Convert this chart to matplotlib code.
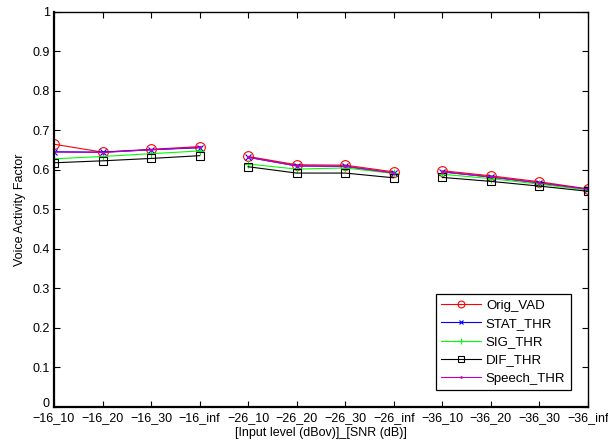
import numpy as np
import matplotlib.pyplot as plt
from matplotlib.transforms import ScaledTranslation

plt.rcParams['font.family'] = ['Liberation Sans', 'DejaVu Sans']

labels = ['\u221216_10', '\u221216_20', '\u221216_30', '\u221216_inf',
          '\u221226_10', '\u221226_20', '\u221226_30', '\u221226_inf',
          '\u221236_10', '\u221236_20', '\u221236_30', '\u221236_inf']

orig_vad = [0.665, 0.645, 0.652, 0.659, 0.634, 0.613, 0.612, 0.595, 0.598, 0.585, 0.570, 0.552]
stat_thr = [0.646, 0.645, 0.651, 0.656, 0.632, 0.610, 0.609, 0.592, 0.595, 0.582, 0.567, 0.551]
sig_thr = [0.628, 0.634, 0.641, 0.648, 0.615, 0.602, 0.605, 0.591, 0.589, 0.578, 0.564, 0.549]
dif_thr = [0.618, 0.623, 0.629, 0.636, 0.608, 0.592, 0.592, 0.580, 0.581, 0.571, 0.559, 0.546]
speech_thr = [0.645, 0.644, 0.651, 0.657, 0.632, 0.610, 0.609, 0.592, 0.595, 0.582, 0.567, 0.551]

series = [
    ('Orig_VAD', orig_vad, 'r', 'o', 7),
    ('STAT_THR', stat_thr, 'b', 'x', 5),
    ('SIG_THR', sig_thr, '#00ff00', '+', 6),
    ('DIF_THR', dif_thr, 'k', 's', 5.5),
    ('Speech_THR', speech_thr, 'm', '.', 3),
]

fig = plt.figure(figsize=(6.08, 4.47), dpi=100)
ax = fig.add_axes([0.0888, 0.0895, 0.878, 0.884])

x = np.arange(len(labels))
for name, vals, col, mk, ms in series:
    v = np.array(vals, dtype=float)
    # draw each input level as its own segment
    for g in range(3):
        sl = slice(4 * g, 4 * g + 4)
        ax.plot(x[sl], v[sl], color=col, marker=mk, markersize=ms,
                markerfacecolor='none' if mk in 'os' else col,
                lw=0.8, mew=0.8, label=name if g == 0 else None)

ax.set_xlim(0, len(labels) - 1)
ax.set_ylim(0, 1)
ax.set_xticks(x)
ax.set_xticklabels(labels)
ax.set_yticks(np.arange(0, 1.01, 0.1))
ax.set_yticklabels(['0', '0.1', '0.2', '0.3', '0.4', '0.5', '0.6', '0.7', '0.8', '0.9', '1'])
ax.tick_params(direction='in', top=True, right=True, labelsize=9, length=4, pad=3)
ax.tick_params(axis='x', pad=4)
# nudge the "0" label up a bit so it clears the first x label
zero = ax.get_yticklabels()[0]
zero.set_transform(zero.get_transform() + ScaledTranslation(0, 3 / 72, fig.dpi_scale_trans))
for s in ax.spines.values():
    s.set_linewidth(1.0)
ax.spines['left'].set_linewidth(1.6)
ax.spines['bottom'].set_linewidth(1.6)
ax.set_xlabel('[Input level (dBov)]_[SNR (dB)]', fontsize=9, labelpad=2)
ax.set_ylabel('Voice Activity Factor', fontsize=9, labelpad=5)
leg = ax.legend(loc='lower right', fontsize=9.5, fancybox=False, framealpha=1,
                edgecolor='k', borderaxespad=1.3, handlelength=3.0,
                labelspacing=0.45, markerscale=0.7, borderpad=0.4, handletextpad=0.4)
leg.get_frame().set_linewidth(0.9)

fig.savefig('out.png', dpi=100)
